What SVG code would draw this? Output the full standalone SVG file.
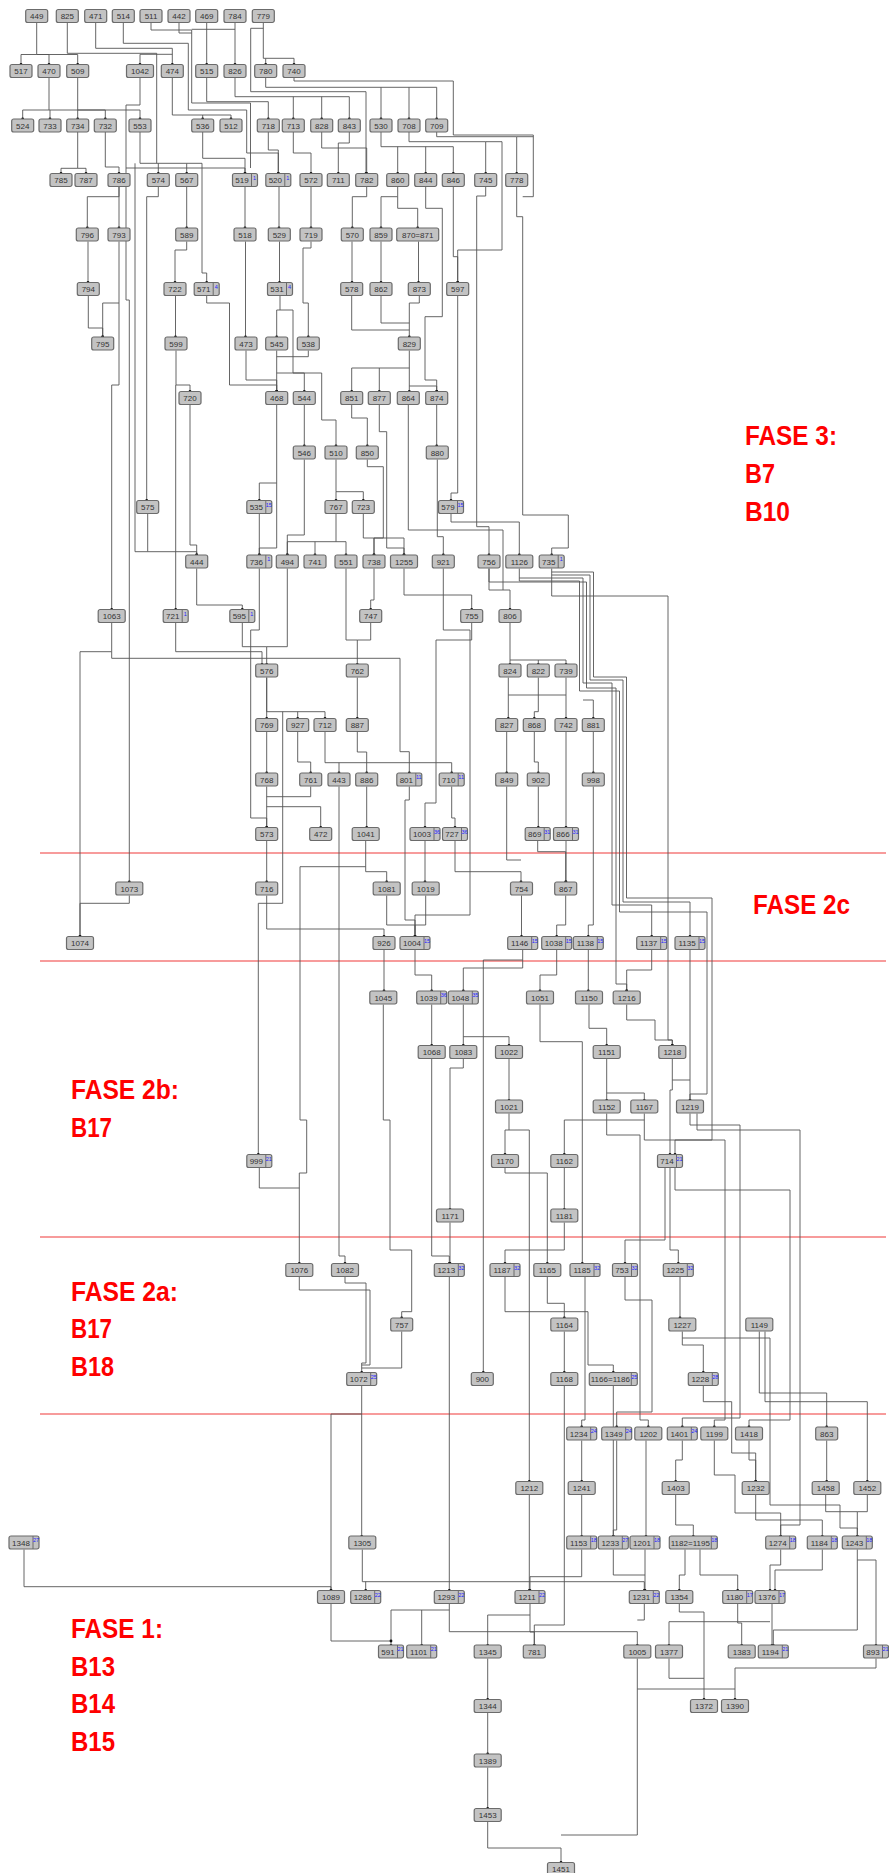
<svg xmlns="http://www.w3.org/2000/svg" xmlns:xlink="http://www.w3.org/1999/xlink" width="889" height="1873" viewBox="0 0 889 1873">
<style>
.l{font-family:"Liberation Sans",Arial,sans-serif;font-size:8px;fill:#333;text-anchor:middle}
.t{font-family:"Liberation Sans",Arial,sans-serif;font-size:5.5px;fill:#2424ff;text-anchor:middle}
.e{fill:none;stroke:#555;stroke-width:0.9;marker-end:url(#dot)}
.j{fill:none;stroke:#555;stroke-width:0.9}
.ph{stroke:#f47a7a;stroke-width:1.5}
.f{font-family:"Liberation Sans",Arial,sans-serif;font-weight:bold;font-size:27px;fill:#ff0000}
</style>
<defs>
<marker id="dot" markerWidth="4" markerHeight="4" refX="2" refY="2" markerUnits="userSpaceOnUse"><circle cx="2" cy="2" r="1.4" fill="#111"/></marker>
<g id="b3"><rect x="-11" y="-6.5" width="22" height="13" rx="2" fill="#c3c3c3" stroke="#6b6b6b" stroke-width="1.2"/></g>
<g id="b4"><rect x="-13.5" y="-6.5" width="27" height="13" rx="2" fill="#c3c3c3" stroke="#6b6b6b" stroke-width="1.2"/></g>
<g id="bL"><rect x="-21" y="-6.5" width="42" height="13" rx="2" fill="#c3c3c3" stroke="#6b6b6b" stroke-width="1.2"/></g>
<g id="t3"><rect x="-12.5" y="-6.5" width="25" height="13" rx="2" fill="#c3c3c3" stroke="#6b6b6b" stroke-width="1.2"/><path d="M6.5 -6.5V6.5" stroke="#6b6b6b" stroke-width="1"/></g>
<g id="t4"><rect x="-15" y="-6.5" width="30" height="13" rx="2" fill="#c3c3c3" stroke="#6b6b6b" stroke-width="1.2"/><path d="M9 -6.5V6.5" stroke="#6b6b6b" stroke-width="1"/></g>
<g id="tL"><rect x="-24" y="-6.5" width="48" height="13" rx="2" fill="#c3c3c3" stroke="#6b6b6b" stroke-width="1.2"/><path d="M18 -6.5V6.5" stroke="#6b6b6b" stroke-width="1"/></g>
</defs>
<rect width="889" height="1873" fill="#ffffff"/>
<g id="phases">
<line class="ph" x1="40" y1="853" x2="886" y2="853"/>
<line class="ph" x1="40" y1="961" x2="886" y2="961"/>
<line class="ph" x1="40" y1="1237" x2="886" y2="1237"/>
<line class="ph" x1="40" y1="1414" x2="886" y2="1414"/>
<text class="f" x="745" y="445" textLength="92" lengthAdjust="spacingAndGlyphs">FASE 3:</text>
<text class="f" x="745" y="483" textLength="30" lengthAdjust="spacingAndGlyphs">B7</text>
<text class="f" x="745" y="521" textLength="45" lengthAdjust="spacingAndGlyphs">B10</text>
<text class="f" x="753" y="914" textLength="97" lengthAdjust="spacingAndGlyphs">FASE 2c</text>
<text class="f" x="71" y="1099" textLength="108" lengthAdjust="spacingAndGlyphs">FASE 2b:</text>
<text class="f" x="71" y="1137" textLength="41" lengthAdjust="spacingAndGlyphs">B17</text>
<text class="f" x="71" y="1301" textLength="107" lengthAdjust="spacingAndGlyphs">FASE 2a:</text>
<text class="f" x="71" y="1338" textLength="41" lengthAdjust="spacingAndGlyphs">B17</text>
<text class="f" x="71" y="1376" textLength="43" lengthAdjust="spacingAndGlyphs">B18</text>
<text class="f" x="71" y="1638" textLength="92" lengthAdjust="spacingAndGlyphs">FASE 1:</text>
<text class="f" x="71" y="1676" textLength="44" lengthAdjust="spacingAndGlyphs">B13</text>
<text class="f" x="71" y="1713" textLength="44" lengthAdjust="spacingAndGlyphs">B14</text>
<text class="f" x="71" y="1751" textLength="44" lengthAdjust="spacingAndGlyphs">B15</text>
</g>
<g id="connectors">
<path class="e" d="M36.7 22.5V54.5H21V64.5"/>
<path class="e" d="M36.7 54.5H49V64.5"/>
<path class="e" d="M36.7 54.5H77.7V64.5"/>
<path class="e" d="M95.7 22.5V48.3H172.3V64.5"/>
<path class="e" d="M172.3 54.3H140V64.5"/>
<path class="e" d="M206.7 22.5V64.5"/>
<path class="e" d="M235 22.5V64.5"/>
<path class="e" d="M263.3 22.5V58.3H265.7V64.5"/>
<path class="e" d="M265.7 58.3H294V64.5"/>
<path class="j" d="M67.3 22.5V53.3H156.7V163.3"/>
<path class="e" d="M123.3 22.5V43.3H188.3V110H246.7V153H278.3V173.5"/>
<path class="j" d="M151 22.5V30H191.7V103H250.5V168"/>
<path class="j" d="M179 22.5V33H191.7"/>
<path class="j" d="M235 29.3H191.7"/>
<path class="e" d="M140 77.5V105H126V168H245V173.5"/>
<path class="e" d="M126 168V300H129.3V882"/>
<path class="e" d="M263.3 28.3H250.7V91.7H366V173.5"/>
<path class="e" d="M49 77.5V110H22.7V119"/>
<path class="e" d="M50 110V119"/>
<path class="e" d="M77.7 110V119"/>
<path class="e" d="M49 110H105.3V119"/>
<path class="e" d="M77.7 77.5V110H140V119"/>
<path class="e" d="M172.3 77.5V115H231V119"/>
<path class="e" d="M202.7 115V119"/>
<path class="e" d="M206.7 77.5V101.7H268.3V119"/>
<path class="e" d="M235 77.5V96.7H349.3V119"/>
<path class="e" d="M293.3 96.7V119"/>
<path class="e" d="M321.7 96.7V119"/>
<path class="e" d="M265.7 77.5V87.3H436.7V119"/>
<path class="e" d="M381 87.3V119"/>
<path class="e" d="M409 87.3V119"/>
<path class="j" d="M294 77.5V81H453.3V135H533.3V196.7H522.7"/>
<path class="e" d="M77.7 132V168.3H61V173.5"/>
<path class="e" d="M77.7 168.3H86V173.5"/>
<path class="e" d="M105.3 132V167H119V173.5"/>
<path class="e" d="M140 132V163.3H186.7V173.5"/>
<path class="e" d="M158.3 163.3V173.5"/>
<path class="e" d="M186.7 163.3H202V273H206.7V282.5"/>
<path class="e" d="M202.7 132V158.3H245V173.5"/>
<path class="e" d="M268.3 132V150H278.3V173.5"/>
<path class="e" d="M293.3 132V153H311V173.5"/>
<path class="e" d="M321.7 132V148H366.7V173.5"/>
<path class="e" d="M349.3 132V143H338.3V173.5"/>
<path class="e" d="M381 132V146.7H453.3V173.5"/>
<path class="e" d="M397.7 146.7V173.5"/>
<path class="e" d="M425.7 146.7V173.5"/>
<path class="e" d="M409 132V141.7H485.7V173.5"/>
<path class="e" d="M485.7 141.7H502V250H457.7V282.5"/>
<path class="e" d="M436.7 132V136.7H516.7V173.5"/>
<path class="j" d="M516.7 136.7H533.3"/>
<path class="e" d="M119 186.5V196.7H87.3V228"/>
<path class="e" d="M119 186.5V228"/>
<path class="e" d="M186.7 186.5V228"/>
<path class="e" d="M245 186.5V228"/>
<path class="e" d="M279 186.5V228"/>
<path class="e" d="M311 186.5V228"/>
<path class="e" d="M366.7 186.5V196.7H352.3V228"/>
<path class="e" d="M397.7 186.5V196.7H381V228"/>
<path class="e" d="M397.7 196.7V208.3H417.7V228"/>
<path class="e" d="M425.7 186.5V208.3H442.3V316.7H425V380H436.7V391.5"/>
<path class="e" d="M453.3 186.5V256.7H457.7V282.5"/>
<path class="e" d="M516.7 186.5V216.7H522.7V515H568.3V548H551.7V555"/>
<path class="e" d="M485.7 186.5V196H476.7V526.7H489V555"/>
<path class="e" d="M88 241.5V282.5"/>
<path class="e" d="M186.7 241.5V250H175V282.5"/>
<path class="e" d="M245.5 241.5V337"/>
<path class="e" d="M279.5 241.5V282.5"/>
<path class="e" d="M311 241.5V248H303V303H308.3V337"/>
<path class="e" d="M352 241.5V282.5"/>
<path class="e" d="M381 241.5V282.5"/>
<path class="e" d="M418.5 241.5V282.5"/>
<path class="e" d="M119 241.5V303H102.7V337"/>
<path class="e" d="M119 303V385H111.7V609.5"/>
<path class="e" d="M88.3 295.5V328H102.7V337"/>
<path class="e" d="M175.5 295.5V337"/>
<path class="e" d="M206.7 295.5V303H229.5V385H276.7V391.5"/>
<path class="e" d="M280 295.5V310H276.7V337"/>
<path class="e" d="M280 310H293V373H321.7V420H336V446"/>
<path class="e" d="M351.7 295.5V330H409.3V337"/>
<path class="j" d="M381 295.5V323H409.3"/>
<path class="j" d="M419.3 295.5V303H409.3V330"/>
<path class="e" d="M457.7 295.5V493H451V500.5"/>
<path class="e" d="M176 350.5V385H190V391.5"/>
<path class="e" d="M175.7 385V609.5"/>
<path class="e" d="M246 350.5V380H276.7V391.5"/>
<path class="e" d="M276.7 350.5V391.5"/>
<path class="e" d="M276.7 373H304.3V391.5"/>
<path class="j" d="M308.3 350.5V356.7H276.7"/>
<path class="e" d="M409.3 350.5V368H351.7V391.5"/>
<path class="e" d="M379.3 368V391.5"/>
<path class="e" d="M409.3 368V391.5"/>
<path class="e" d="M409.3 386H436.7V391.5"/>
<path class="e" d="M304.3 404.5V446"/>
<path class="e" d="M351.7 404.5V418H367.3V446"/>
<path class="e" d="M436.7 404.5V446"/>
<path class="e" d="M276.7 404.5V483H259.3V500.5"/>
<path class="e" d="M276.7 483V548H259.3V555"/>
<path class="e" d="M379.3 404.5V431.7H386.7V548H404V555"/>
<path class="e" d="M408.3 404.5V530H503V590H510V609.5"/>
<path class="e" d="M190 404.5V545H196.7V555"/>
<path class="e" d="M336 459.5V491.7H363.3V500.5"/>
<path class="e" d="M336 491.7V500.5"/>
<path class="e" d="M304.3 459.5V535H287.3V555"/>
<path class="e" d="M367.3 459.5V466.7H383.3V538H374V555"/>
<path class="e" d="M437.3 459.5V536.7H443.3V555"/>
<path class="e" d="M451 513.5V522H519.3V555"/>
<path class="e" d="M259.3 513.5V555"/>
<path class="e" d="M336 513.5V541.7H287.3V555"/>
<path class="e" d="M315 541.7V555"/>
<path class="e" d="M336 541.7H346V555"/>
<path class="e" d="M363.3 513.5V538H404V555"/>
<path class="e" d="M374 538V555"/>
<path class="e" d="M147.7 513.5V551.7H196.7V555"/>
<path class="e" d="M158.3 186.5V196.7H146.7V500.5"/>
<path class="j" d="M135 163.3V551.7H147.7"/>
<path class="e" d="M374 568.5V600H370.7V609.5"/>
<path class="e" d="M404 568.5V595H471.7V609.5"/>
<path class="j" d="M443.3 568.5V595"/>
<path class="j" d="M489 568.5V590H503"/>
<path class="e" d="M196.7 568.5V605H242.3V609.5"/>
<path class="j" d="M346 568.5V640H357.3"/>
<path class="e" d="M370.7 622.5V640H357.3V664.5"/>
<path class="e" d="M287.3 568.5V646.7H266.7V664.5"/>
<path class="j" d="M242.3 622.5V646.7H266.7"/>
<path class="e" d="M175.7 622.5V651.7H262V664.5"/>
<path class="e" d="M259.3 568.5V630H250.7V818H266.7V827.5"/>
<path class="j" d="M471.7 622.5V640H436"/>
<path class="e" d="M436 640V803H425V827.5"/>
<path class="e" d="M111.7 622.5V651.7H80V936.5"/>
<path class="e" d="M111.7 651.7V658.3H400V751.7H409.3V773"/>
<path class="e" d="M510 622.5V664.5"/>
<path class="e" d="M510 660H566V664.5"/>
<path class="e" d="M538.3 660V664.5"/>
<path class="e" d="M519.3 568.5V578H583V683H612V905H651.7V936.5"/>
<path class="e" d="M551.7 568.5V575H590V680H623V902H690V936.5"/>
<path class="e" d="M551.7 575V596H668V1040H672.3V1045.5"/>
<path class="e" d="M489 568.5V582H586.5V688H616V984H626.7V991"/>
<path class="e" d="M519.3 578V581H579.5V691H619.5V912H707V1094H690V1100.5"/>
<path class="e" d="M551.7 572H593.5V677H626.5V898H712V1140H675V1154.5"/>
<path class="e" d="M583 700H593.3V718.5"/>
<path class="e" d="M266.7 677.5V711.7H325V718.5"/>
<path class="e" d="M266.7 677.5V718.5"/>
<path class="e" d="M297.7 711.7V718.5"/>
<path class="e" d="M282.7 711.7V903.3H258.3V1154.5"/>
<path class="e" d="M357.3 677.5V718.5"/>
<path class="e" d="M508.3 677.5V718.5"/>
<path class="e" d="M538.3 677.5V711.7H534.3V718.5"/>
<path class="e" d="M566 677.5V718.5"/>
<path class="j" d="M566 695H508.3"/>
<path class="e" d="M266.7 731.5V773"/>
<path class="e" d="M297.7 731.5V762H310.7V773"/>
<path class="e" d="M325 731.5V762.7H451.7V773"/>
<path class="e" d="M339 762.7V773"/>
<path class="e" d="M357.3 731.5V752H366.7V773"/>
<path class="e" d="M506.7 731.5V773"/>
<path class="e" d="M534.3 731.5V762H538.3V773"/>
<path class="e" d="M593.3 731.5V773"/>
<path class="e" d="M266.7 786.5V827.5"/>
<path class="j" d="M310.7 786.5V796.7H266.7"/>
<path class="e" d="M266.7 806.7H320.7V827.5"/>
<path class="e" d="M366.7 786.5V827.5"/>
<path class="e" d="M451.7 786.5V818H455V827.5"/>
<path class="e" d="M538.3 786.5V827.5"/>
<path class="e" d="M566 731.5V827.5"/>
<path class="e" d="M593.3 786.5V925H588.3V936.5"/>
<path class="e" d="M339 786.5V1256H345V1263.5"/>
<path class="e" d="M409.3 786.5V800H405V920H415V936.5"/>
<path class="e" d="M266.7 840.5V882"/>
<path class="e" d="M365.7 840.5V871.7H386.7V882"/>
<path class="e" d="M365.7 866.7H300V1120H306.7V1173H299.3V1263.5"/>
<path class="e" d="M425 840.5V882"/>
<path class="e" d="M455 840.5V871.7H521V882"/>
<path class="j" d="M506.7 786.5V860H521"/>
<path class="e" d="M537.7 840.5V851.7H565.7V882"/>
<path class="e" d="M566 840.5V882"/>
<path class="e" d="M129.3 895.5V903.3H80V936.5"/>
<path class="e" d="M266.7 895.5V929H384V936.5"/>
<path class="e" d="M386.7 895.5V925H415V936.5"/>
<path class="j" d="M425.7 895.5V925H415"/>
<path class="e" d="M521.5 895.5V936.5"/>
<path class="e" d="M565.7 895.5V925H556.7V936.5"/>
<path class="e" d="M443.3 595V630H470V915H415V936.5"/>
<path class="e" d="M384 949.5V991"/>
<path class="e" d="M415 949.5V975H431.7V991"/>
<path class="e" d="M522.7 949.5V968H463.3V991"/>
<path class="e" d="M522.7 960H483.3V1372.5"/>
<path class="e" d="M556.7 949.5V975H540V991"/>
<path class="e" d="M588.3 949.5V991"/>
<path class="e" d="M651.7 949.5V970H626.7V991"/>
<path class="e" d="M690 949.5V1100.5"/>
<path class="e" d="M431.7 1004.5V1045.5"/>
<path class="e" d="M463.3 1004.5V1045.5"/>
<path class="e" d="M463.3 1036.7H509V1045.5"/>
<path class="e" d="M589 1004.5V1028.3H606.7V1045.5"/>
<path class="e" d="M626.7 1004.5V1020H655V1040H672.3V1045.5"/>
<path class="e" d="M540 1004.5V1041.7H582.3V1263.5"/>
<path class="e" d="M383.3 1004.5V1120H390V1250H411.7V1311.7H401.7V1318"/>
<path class="e" d="M509 1058.5V1100.5"/>
<path class="e" d="M606.7 1058.5V1100.5"/>
<path class="e" d="M606.7 1093H644.3V1100.5"/>
<path class="j" d="M672.3 1058.5V1080H690"/>
<path class="e" d="M672.3 1080V1090H670V1154.5"/>
<path class="e" d="M463.3 1058.5V1068H450V1209.5"/>
<path class="e" d="M431.7 1058.5V1256H449.3V1263.5"/>
<path class="e" d="M509 1113.5V1130H505V1154.5"/>
<path class="e" d="M606.7 1113.5V1120H564.3V1154.5"/>
<path class="j" d="M644.3 1113.5V1120H606.7"/>
<path class="e" d="M509 1130H529.3V1481.5"/>
<path class="e" d="M606.7 1120V1135H640V1420H648.3V1427"/>
<path class="e" d="M644.3 1120V1140H725V1420H714.3V1427"/>
<path class="e" d="M690 1113.5V1125H740V1418H682.3V1427"/>
<path class="e" d="M697 1113.5V1130H800V1525H780.7V1536.5"/>
<path class="e" d="M564.3 1167.5V1209.5"/>
<path class="e" d="M505 1167.5V1173H547.3V1263.5"/>
<path class="e" d="M670 1167.5V1250H678.3V1263.5"/>
<path class="e" d="M665 1167.5V1240H625V1263.5"/>
<path class="e" d="M675 1167.5V1190H790V1420H749V1427"/>
<path class="j" d="M259.3 1167.5V1188H299.3"/>
<path class="e" d="M450 1222.5V1263.5"/>
<path class="e" d="M564.3 1222.5V1250H505V1263.5"/>
<path class="e" d="M547.3 1276.5V1303.3H564.3V1318"/>
<path class="e" d="M505 1276.5V1311.7H588V1365H613.3V1372.5"/>
<path class="e" d="M585 1276.5V1420H581.7V1427"/>
<path class="e" d="M625 1276.5V1300H652V1412H616.7V1427"/>
<path class="e" d="M680 1276.5V1318"/>
<path class="e" d="M682.3 1331.5V1345H703.3V1372.5"/>
<path class="e" d="M682.3 1338H770V1505H840V1528H857.3V1536.5"/>
<path class="e" d="M759.3 1331.5V1393H826.7V1427"/>
<path class="e" d="M765 1331.5V1401.7H867.3V1481.5"/>
<path class="e" d="M564.3 1331.5V1372.5"/>
<path class="e" d="M345 1276.5V1283H366V1363H361.7V1372.5"/>
<path class="j" d="M299.3 1276.5V1290H370V1365H361.7"/>
<path class="j" d="M401.7 1331.5V1368H361.7"/>
<path class="e" d="M361.7 1385.5V1536.5"/>
<path class="e" d="M361.7 1414H331V1590.5"/>
<path class="e" d="M613.3 1385.5V1536.5"/>
<path class="e" d="M703.3 1385.5V1401.7H731.7V1453H755.7V1481.5"/>
<path class="e" d="M564.3 1385.5V1625H534.3V1645.5"/>
<path class="e" d="M581.7 1440.5V1481.5"/>
<path class="e" d="M646 1440.5V1536.5"/>
<path class="e" d="M682.3 1440.5V1460H675.7V1481.5"/>
<path class="e" d="M714.3 1440.5V1475H735V1513H780.7V1536.5"/>
<path class="e" d="M749 1440.5V1460H755.7V1481.5"/>
<path class="e" d="M826.7 1440.5V1481.5"/>
<path class="e" d="M616.7 1440.5V1530H613.3V1536.5"/>
<path class="e" d="M581.7 1494.5V1536.5"/>
<path class="e" d="M675.7 1494.5V1525H693.3V1536.5"/>
<path class="e" d="M755.7 1494.5V1520H822.3V1536.5"/>
<path class="e" d="M825.7 1494.5V1511.7H857.3V1536.5"/>
<path class="j" d="M867.3 1494.5V1511.7H857.3"/>
<path class="e" d="M529.3 1494.5V1590.5"/>
<path class="e" d="M24 1549.5V1586.7H331V1590.5"/>
<path class="e" d="M362.3 1549.5V1581.7H644.3V1590.5"/>
<path class="e" d="M365.7 1581.7V1590.5"/>
<path class="e" d="M449.3 1276.5V1590.5"/>
<path class="e" d="M581.7 1549.5V1576.7H530V1590.5"/>
<path class="e" d="M645 1549.5V1590.5"/>
<path class="j" d="M613.3 1549.5V1575H645"/>
<path class="e" d="M685 1549.5V1575H679.3V1590.5"/>
<path class="e" d="M700 1549.5V1575H737.7V1590.5"/>
<path class="e" d="M780.7 1549.5V1565H770V1590.5"/>
<path class="e" d="M822.3 1549.5V1570H775V1590.5"/>
<path class="e" d="M857.3 1549.5V1560H876V1645.5"/>
<path class="e" d="M857.3 1560V1630H773.3V1645.5"/>
<path class="e" d="M331 1603.5V1641H391V1645.5"/>
<path class="e" d="M449.3 1603.5V1610H391V1641"/>
<path class="e" d="M421.7 1610V1645.5"/>
<path class="e" d="M449.3 1610V1631.7H637.3V1645.5"/>
<path class="e" d="M530 1603.5V1615H487.7V1645.5"/>
<path class="e" d="M530 1615V1632H534.3V1645.5"/>
<path class="j" d="M644.3 1603.5V1620H637.3"/>
<path class="e" d="M737.7 1603.5V1623H741.7V1645.5"/>
<path class="e" d="M772 1603.5V1645.5"/>
<path class="e" d="M770 1621.7H669V1645.5"/>
<path class="e" d="M679.3 1603.5V1612H704V1699.5"/>
<path class="e" d="M487.7 1658.5V1699.5"/>
<path class="e" d="M487.7 1712.5V1754"/>
<path class="e" d="M487.7 1767.5V1808.5"/>
<path class="e" d="M487.7 1821.5V1848H561V1862.5"/>
<path class="j" d="M637.3 1658.5V1835H561"/>
<path class="j" d="M669 1658.5V1678.3H704"/>
<path class="e" d="M637.3 1689H735V1699.5"/>
<path class="j" d="M876 1658.5V1668H735V1689"/>
</g>
<g id="nodes">
<g id="n449" transform="translate(36.7 16)"><use href="#b3"/><text class="l" y="3">449</text></g>
<g id="n825" transform="translate(67.3 16)"><use href="#b3"/><text class="l" y="3">825</text></g>
<g id="n471" transform="translate(95.7 16)"><use href="#b3"/><text class="l" y="3">471</text></g>
<g id="n514" transform="translate(123.3 16)"><use href="#b3"/><text class="l" y="3">514</text></g>
<g id="n511" transform="translate(151 16)"><use href="#b3"/><text class="l" y="3">511</text></g>
<g id="n442" transform="translate(179 16)"><use href="#b3"/><text class="l" y="3">442</text></g>
<g id="n469" transform="translate(206.7 16)"><use href="#b3"/><text class="l" y="3">469</text></g>
<g id="n784" transform="translate(235 16)"><use href="#b3"/><text class="l" y="3">784</text></g>
<g id="n779" transform="translate(263.3 16)"><use href="#b3"/><text class="l" y="3">779</text></g>
<g id="n517" transform="translate(21 71)"><use href="#b3"/><text class="l" y="3">517</text></g>
<g id="n470" transform="translate(49 71)"><use href="#b3"/><text class="l" y="3">470</text></g>
<g id="n509" transform="translate(77.7 71)"><use href="#b3"/><text class="l" y="3">509</text></g>
<g id="n1042" transform="translate(140 71)"><use href="#b4"/><text class="l" y="3">1042</text></g>
<g id="n474" transform="translate(172.3 71)"><use href="#b3"/><text class="l" y="3">474</text></g>
<g id="n515" transform="translate(206.7 71)"><use href="#b3"/><text class="l" y="3">515</text></g>
<g id="n826" transform="translate(235 71)"><use href="#b3"/><text class="l" y="3">826</text></g>
<g id="n780" transform="translate(265.7 71)"><use href="#b3"/><text class="l" y="3">780</text></g>
<g id="n740" transform="translate(294 71)"><use href="#b3"/><text class="l" y="3">740</text></g>
<g id="n524" transform="translate(22.7 125.5)"><use href="#b3"/><text class="l" y="3">524</text></g>
<g id="n733" transform="translate(50 125.5)"><use href="#b3"/><text class="l" y="3">733</text></g>
<g id="n734" transform="translate(77.7 125.5)"><use href="#b3"/><text class="l" y="3">734</text></g>
<g id="n732" transform="translate(105.3 125.5)"><use href="#b3"/><text class="l" y="3">732</text></g>
<g id="n553" transform="translate(140 125.5)"><use href="#b3"/><text class="l" y="3">553</text></g>
<g id="n536" transform="translate(202.7 125.5)"><use href="#b3"/><text class="l" y="3">536</text></g>
<g id="n512" transform="translate(231 125.5)"><use href="#b3"/><text class="l" y="3">512</text></g>
<g id="n718" transform="translate(268.3 125.5)"><use href="#b3"/><text class="l" y="3">718</text></g>
<g id="n713" transform="translate(293.3 125.5)"><use href="#b3"/><text class="l" y="3">713</text></g>
<g id="n828" transform="translate(321.7 125.5)"><use href="#b3"/><text class="l" y="3">828</text></g>
<g id="n843" transform="translate(349.3 125.5)"><use href="#b3"/><text class="l" y="3">843</text></g>
<g id="n530" transform="translate(381 125.5)"><use href="#b3"/><text class="l" y="3">530</text></g>
<g id="n708" transform="translate(409 125.5)"><use href="#b3"/><text class="l" y="3">708</text></g>
<g id="n709" transform="translate(436.7 125.5)"><use href="#b3"/><text class="l" y="3">709</text></g>
<g id="n785" transform="translate(61 180)"><use href="#b3"/><text class="l" y="3">785</text></g>
<g id="n787" transform="translate(86 180)"><use href="#b3"/><text class="l" y="3">787</text></g>
<g id="n786" transform="translate(119 180)"><use href="#b3"/><text class="l" y="3">786</text></g>
<g id="n574" transform="translate(158.3 180)"><use href="#b3"/><text class="l" y="3">574</text></g>
<g id="n567" transform="translate(186.7 180)"><use href="#b3"/><text class="l" y="3">567</text></g>
<g id="n519" transform="translate(245 180)"><use href="#t3"/><text class="l" x="-3" y="3">519</text><text class="t" x="9.5" y="-0.5">1</text></g>
<g id="n520" transform="translate(278.3 180)"><use href="#t3"/><text class="l" x="-3" y="3">520</text><text class="t" x="9.5" y="-0.5">1</text></g>
<g id="n572" transform="translate(311 180)"><use href="#b3"/><text class="l" y="3">572</text></g>
<g id="n711" transform="translate(338.3 180)"><use href="#b3"/><text class="l" y="3">711</text></g>
<g id="n782" transform="translate(366.7 180)"><use href="#b3"/><text class="l" y="3">782</text></g>
<g id="n860" transform="translate(397.7 180)"><use href="#b3"/><text class="l" y="3">860</text></g>
<g id="n844" transform="translate(425.7 180)"><use href="#b3"/><text class="l" y="3">844</text></g>
<g id="n846" transform="translate(453.3 180)"><use href="#b3"/><text class="l" y="3">846</text></g>
<g id="n745" transform="translate(485.7 180)"><use href="#b3"/><text class="l" y="3">745</text></g>
<g id="n778" transform="translate(516.7 180)"><use href="#b3"/><text class="l" y="3">778</text></g>
<g id="n796" transform="translate(87.3 234.5)"><use href="#b3"/><text class="l" y="3">796</text></g>
<g id="n793" transform="translate(119 234.5)"><use href="#b3"/><text class="l" y="3">793</text></g>
<g id="n589" transform="translate(186.7 234.5)"><use href="#b3"/><text class="l" y="3">589</text></g>
<g id="n518" transform="translate(245 234.5)"><use href="#b3"/><text class="l" y="3">518</text></g>
<g id="n529" transform="translate(279.3 234.5)"><use href="#b3"/><text class="l" y="3">529</text></g>
<g id="n719" transform="translate(311 234.5)"><use href="#b3"/><text class="l" y="3">719</text></g>
<g id="n570" transform="translate(352.3 234.5)"><use href="#b3"/><text class="l" y="3">570</text></g>
<g id="n859" transform="translate(381 234.5)"><use href="#b3"/><text class="l" y="3">859</text></g>
<g id="n870" transform="translate(417.7 234.5)"><use href="#bL"/><text class="l" y="3">870=871</text></g>
<g id="n794" transform="translate(88.3 289)"><use href="#b3"/><text class="l" y="3">794</text></g>
<g id="n722" transform="translate(175 289)"><use href="#b3"/><text class="l" y="3">722</text></g>
<g id="n571" transform="translate(206.7 289)"><use href="#t3"/><text class="l" x="-3" y="3">571</text><text class="t" x="9.5" y="-0.5">4</text></g>
<g id="n531" transform="translate(280 289)"><use href="#t3"/><text class="l" x="-3" y="3">531</text><text class="t" x="9.5" y="-0.5">4</text></g>
<g id="n578" transform="translate(351.7 289)"><use href="#b3"/><text class="l" y="3">578</text></g>
<g id="n862" transform="translate(381 289)"><use href="#b3"/><text class="l" y="3">862</text></g>
<g id="n873" transform="translate(419.3 289)"><use href="#b3"/><text class="l" y="3">873</text></g>
<g id="n597" transform="translate(457.7 289)"><use href="#b3"/><text class="l" y="3">597</text></g>
<g id="n795" transform="translate(102.7 343.5)"><use href="#b3"/><text class="l" y="3">795</text></g>
<g id="n599" transform="translate(176 343.5)"><use href="#b3"/><text class="l" y="3">599</text></g>
<g id="n473" transform="translate(246 343.5)"><use href="#b3"/><text class="l" y="3">473</text></g>
<g id="n545" transform="translate(276.7 343.5)"><use href="#b3"/><text class="l" y="3">545</text></g>
<g id="n538" transform="translate(308.3 343.5)"><use href="#b3"/><text class="l" y="3">538</text></g>
<g id="n829" transform="translate(409.3 343.5)"><use href="#b3"/><text class="l" y="3">829</text></g>
<g id="n720" transform="translate(190 398)"><use href="#b3"/><text class="l" y="3">720</text></g>
<g id="n468" transform="translate(276.7 398)"><use href="#b3"/><text class="l" y="3">468</text></g>
<g id="n544" transform="translate(304.3 398)"><use href="#b3"/><text class="l" y="3">544</text></g>
<g id="n851" transform="translate(351.7 398)"><use href="#b3"/><text class="l" y="3">851</text></g>
<g id="n877" transform="translate(379.3 398)"><use href="#b3"/><text class="l" y="3">877</text></g>
<g id="n864" transform="translate(408.3 398)"><use href="#b3"/><text class="l" y="3">864</text></g>
<g id="n874" transform="translate(436.7 398)"><use href="#b3"/><text class="l" y="3">874</text></g>
<g id="n546" transform="translate(304.3 452.5)"><use href="#b3"/><text class="l" y="3">546</text></g>
<g id="n510" transform="translate(336 452.5)"><use href="#b3"/><text class="l" y="3">510</text></g>
<g id="n850" transform="translate(367.3 452.5)"><use href="#b3"/><text class="l" y="3">850</text></g>
<g id="n880" transform="translate(437.3 452.5)"><use href="#b3"/><text class="l" y="3">880</text></g>
<g id="n575" transform="translate(147.7 507)"><use href="#b3"/><text class="l" y="3">575</text></g>
<g id="n535" transform="translate(259.3 507)"><use href="#t3"/><text class="l" x="-3" y="3">535</text><text class="t" x="9.5" y="-0.5">15</text></g>
<g id="n767" transform="translate(336 507)"><use href="#b3"/><text class="l" y="3">767</text></g>
<g id="n723" transform="translate(363.3 507)"><use href="#b3"/><text class="l" y="3">723</text></g>
<g id="n579" transform="translate(451 507)"><use href="#t3"/><text class="l" x="-3" y="3">579</text><text class="t" x="9.5" y="-0.5">15</text></g>
<g id="n444" transform="translate(196.7 561.5)"><use href="#b3"/><text class="l" y="3">444</text></g>
<g id="n736" transform="translate(259.3 561.5)"><use href="#t3"/><text class="l" x="-3" y="3">736</text><text class="t" x="9.5" y="-0.5">1</text></g>
<g id="n494" transform="translate(287.3 561.5)"><use href="#b3"/><text class="l" y="3">494</text></g>
<g id="n741" transform="translate(315 561.5)"><use href="#b3"/><text class="l" y="3">741</text></g>
<g id="n551" transform="translate(346 561.5)"><use href="#b3"/><text class="l" y="3">551</text></g>
<g id="n738" transform="translate(374 561.5)"><use href="#b3"/><text class="l" y="3">738</text></g>
<g id="n1255" transform="translate(404 561.5)"><use href="#b4"/><text class="l" y="3">1255</text></g>
<g id="n921" transform="translate(443.3 561.5)"><use href="#b3"/><text class="l" y="3">921</text></g>
<g id="n756" transform="translate(489 561.5)"><use href="#b3"/><text class="l" y="3">756</text></g>
<g id="n1126" transform="translate(519.3 561.5)"><use href="#b4"/><text class="l" y="3">1126</text></g>
<g id="n735" transform="translate(551.7 561.5)"><use href="#t3"/><text class="l" x="-3" y="3">735</text><text class="t" x="9.5" y="-0.5">1</text></g>
<g id="n1063" transform="translate(111.7 616)"><use href="#b4"/><text class="l" y="3">1063</text></g>
<g id="n721" transform="translate(175.7 616)"><use href="#t3"/><text class="l" x="-3" y="3">721</text><text class="t" x="9.5" y="-0.5">1</text></g>
<g id="n595" transform="translate(242.3 616)"><use href="#t3"/><text class="l" x="-3" y="3">595</text><text class="t" x="9.5" y="-0.5">1</text></g>
<g id="n747" transform="translate(370.7 616)"><use href="#b3"/><text class="l" y="3">747</text></g>
<g id="n755" transform="translate(471.7 616)"><use href="#b3"/><text class="l" y="3">755</text></g>
<g id="n806" transform="translate(510 616)"><use href="#b3"/><text class="l" y="3">806</text></g>
<g id="n576" transform="translate(266.7 670.5)"><use href="#b3"/><text class="l" y="3">576</text></g>
<g id="n762" transform="translate(357.3 670.5)"><use href="#b3"/><text class="l" y="3">762</text></g>
<g id="n824" transform="translate(510 670.5)"><use href="#b3"/><text class="l" y="3">824</text></g>
<g id="n822" transform="translate(538.3 670.5)"><use href="#b3"/><text class="l" y="3">822</text></g>
<g id="n739" transform="translate(566 670.5)"><use href="#b3"/><text class="l" y="3">739</text></g>
<g id="n769" transform="translate(266.7 725)"><use href="#b3"/><text class="l" y="3">769</text></g>
<g id="n927" transform="translate(297.7 725)"><use href="#b3"/><text class="l" y="3">927</text></g>
<g id="n712" transform="translate(325 725)"><use href="#b3"/><text class="l" y="3">712</text></g>
<g id="n887" transform="translate(357.3 725)"><use href="#b3"/><text class="l" y="3">887</text></g>
<g id="n827" transform="translate(506.7 725)"><use href="#b3"/><text class="l" y="3">827</text></g>
<g id="n868" transform="translate(534.3 725)"><use href="#b3"/><text class="l" y="3">868</text></g>
<g id="n742" transform="translate(566 725)"><use href="#b3"/><text class="l" y="3">742</text></g>
<g id="n881" transform="translate(593.3 725)"><use href="#b3"/><text class="l" y="3">881</text></g>
<g id="n768" transform="translate(266.7 779.5)"><use href="#b3"/><text class="l" y="3">768</text></g>
<g id="n761" transform="translate(310.7 779.5)"><use href="#b3"/><text class="l" y="3">761</text></g>
<g id="n443" transform="translate(339 779.5)"><use href="#b3"/><text class="l" y="3">443</text></g>
<g id="n886" transform="translate(366.7 779.5)"><use href="#b3"/><text class="l" y="3">886</text></g>
<g id="n801" transform="translate(409.3 779.5)"><use href="#t3"/><text class="l" x="-3" y="3">801</text><text class="t" x="9.5" y="-0.5">11</text></g>
<g id="n710" transform="translate(451.7 779.5)"><use href="#t3"/><text class="l" x="-3" y="3">710</text><text class="t" x="9.5" y="-0.5">11</text></g>
<g id="n849" transform="translate(506.7 779.5)"><use href="#b3"/><text class="l" y="3">849</text></g>
<g id="n902" transform="translate(538.3 779.5)"><use href="#b3"/><text class="l" y="3">902</text></g>
<g id="n998" transform="translate(593.3 779.5)"><use href="#b3"/><text class="l" y="3">998</text></g>
<g id="n573" transform="translate(266.7 834)"><use href="#b3"/><text class="l" y="3">573</text></g>
<g id="n472" transform="translate(320.7 834)"><use href="#b3"/><text class="l" y="3">472</text></g>
<g id="n1041" transform="translate(365.7 834)"><use href="#b4"/><text class="l" y="3">1041</text></g>
<g id="n1003" transform="translate(425 834)"><use href="#t4"/><text class="l" x="-3" y="3">1003</text><text class="t" x="12" y="-0.5">36</text></g>
<g id="n727" transform="translate(455 834)"><use href="#t3"/><text class="l" x="-3" y="3">727</text><text class="t" x="9.5" y="-0.5">36</text></g>
<g id="n869" transform="translate(537.7 834)"><use href="#t3"/><text class="l" x="-3" y="3">869</text><text class="t" x="9.5" y="-0.5">31</text></g>
<g id="n866" transform="translate(566 834)"><use href="#t3"/><text class="l" x="-3" y="3">866</text><text class="t" x="9.5" y="-0.5">31</text></g>
<g id="n1073" transform="translate(129.3 888.5)"><use href="#b4"/><text class="l" y="3">1073</text></g>
<g id="n716" transform="translate(266.7 888.5)"><use href="#b3"/><text class="l" y="3">716</text></g>
<g id="n1081" transform="translate(386.7 888.5)"><use href="#b4"/><text class="l" y="3">1081</text></g>
<g id="n1019" transform="translate(425.7 888.5)"><use href="#b4"/><text class="l" y="3">1019</text></g>
<g id="n754" transform="translate(521.5 888.5)"><use href="#b3"/><text class="l" y="3">754</text></g>
<g id="n867" transform="translate(565.7 888.5)"><use href="#b3"/><text class="l" y="3">867</text></g>
<g id="n1074" transform="translate(80 943)"><use href="#b4"/><text class="l" y="3">1074</text></g>
<g id="n926" transform="translate(384 943)"><use href="#b3"/><text class="l" y="3">926</text></g>
<g id="n1004" transform="translate(415 943)"><use href="#t4"/><text class="l" x="-3" y="3">1004</text><text class="t" x="12" y="-0.5">15</text></g>
<g id="n1146" transform="translate(522.7 943)"><use href="#t4"/><text class="l" x="-3" y="3">1146</text><text class="t" x="12" y="-0.5">15</text></g>
<g id="n1038" transform="translate(556.7 943)"><use href="#t4"/><text class="l" x="-3" y="3">1038</text><text class="t" x="12" y="-0.5">15</text></g>
<g id="n1138" transform="translate(588.3 943)"><use href="#t4"/><text class="l" x="-3" y="3">1138</text><text class="t" x="12" y="-0.5">15</text></g>
<g id="n1137" transform="translate(651.7 943)"><use href="#t4"/><text class="l" x="-3" y="3">1137</text><text class="t" x="12" y="-0.5">15</text></g>
<g id="n1135" transform="translate(690 943)"><use href="#t4"/><text class="l" x="-3" y="3">1135</text><text class="t" x="12" y="-0.5">15</text></g>
<g id="n1045" transform="translate(383.3 997.5)"><use href="#b4"/><text class="l" y="3">1045</text></g>
<g id="n1039" transform="translate(431.7 997.5)"><use href="#t4"/><text class="l" x="-3" y="3">1039</text><text class="t" x="12" y="-0.5">36</text></g>
<g id="n1048" transform="translate(463.3 997.5)"><use href="#t4"/><text class="l" x="-3" y="3">1048</text><text class="t" x="12" y="-0.5">35</text></g>
<g id="n1051" transform="translate(540 997.5)"><use href="#b4"/><text class="l" y="3">1051</text></g>
<g id="n1150" transform="translate(589 997.5)"><use href="#b4"/><text class="l" y="3">1150</text></g>
<g id="n1216" transform="translate(626.7 997.5)"><use href="#b4"/><text class="l" y="3">1216</text></g>
<g id="n1068" transform="translate(431.7 1052)"><use href="#b4"/><text class="l" y="3">1068</text></g>
<g id="n1083" transform="translate(463.3 1052)"><use href="#b4"/><text class="l" y="3">1083</text></g>
<g id="n1022" transform="translate(509 1052)"><use href="#b4"/><text class="l" y="3">1022</text></g>
<g id="n1151" transform="translate(606.7 1052)"><use href="#b4"/><text class="l" y="3">1151</text></g>
<g id="n1218" transform="translate(672.3 1052)"><use href="#b4"/><text class="l" y="3">1218</text></g>
<g id="n1021" transform="translate(509 1106.5)"><use href="#b4"/><text class="l" y="3">1021</text></g>
<g id="n1152" transform="translate(606.7 1106.5)"><use href="#b4"/><text class="l" y="3">1152</text></g>
<g id="n1167" transform="translate(644.3 1106.5)"><use href="#b4"/><text class="l" y="3">1167</text></g>
<g id="n1219" transform="translate(690 1106.5)"><use href="#b4"/><text class="l" y="3">1219</text></g>
<g id="n999" transform="translate(259.3 1161)"><use href="#t3"/><text class="l" x="-3" y="3">999</text><text class="t" x="9.5" y="-0.5">21</text></g>
<g id="n1170" transform="translate(505 1161)"><use href="#b4"/><text class="l" y="3">1170</text></g>
<g id="n1162" transform="translate(564.3 1161)"><use href="#b4"/><text class="l" y="3">1162</text></g>
<g id="n714" transform="translate(670 1161)"><use href="#t3"/><text class="l" x="-3" y="3">714</text><text class="t" x="9.5" y="-0.5">21</text></g>
<g id="n1171" transform="translate(450 1215.5)"><use href="#b4"/><text class="l" y="3">1171</text></g>
<g id="n1181" transform="translate(564.3 1215.5)"><use href="#b4"/><text class="l" y="3">1181</text></g>
<g id="n1076" transform="translate(299.3 1270)"><use href="#b4"/><text class="l" y="3">1076</text></g>
<g id="n1082" transform="translate(345 1270)"><use href="#b4"/><text class="l" y="3">1082</text></g>
<g id="n1213" transform="translate(449.3 1270)"><use href="#t4"/><text class="l" x="-3" y="3">1213</text><text class="t" x="12" y="-0.5">32</text></g>
<g id="n1187" transform="translate(505 1270)"><use href="#t4"/><text class="l" x="-3" y="3">1187</text><text class="t" x="12" y="-0.5">32</text></g>
<g id="n1165" transform="translate(547.3 1270)"><use href="#b4"/><text class="l" y="3">1165</text></g>
<g id="n1185" transform="translate(585 1270)"><use href="#t4"/><text class="l" x="-3" y="3">1185</text><text class="t" x="12" y="-0.5">32</text></g>
<g id="n753" transform="translate(625 1270)"><use href="#t3"/><text class="l" x="-3" y="3">753</text><text class="t" x="9.5" y="-0.5">32</text></g>
<g id="n1225" transform="translate(678.3 1270)"><use href="#t4"/><text class="l" x="-3" y="3">1225</text><text class="t" x="12" y="-0.5">32</text></g>
<g id="n757" transform="translate(401.7 1324.5)"><use href="#b3"/><text class="l" y="3">757</text></g>
<g id="n1164" transform="translate(564.3 1324.5)"><use href="#b4"/><text class="l" y="3">1164</text></g>
<g id="n1227" transform="translate(682.3 1324.5)"><use href="#b4"/><text class="l" y="3">1227</text></g>
<g id="n1149" transform="translate(759.3 1324.5)"><use href="#b4"/><text class="l" y="3">1149</text></g>
<g id="n1072" transform="translate(361.7 1379)"><use href="#t4"/><text class="l" x="-3" y="3">1072</text><text class="t" x="12" y="-0.5">25</text></g>
<g id="n900" transform="translate(482.3 1379)"><use href="#b3"/><text class="l" y="3">900</text></g>
<g id="n1168" transform="translate(564.3 1379)"><use href="#b4"/><text class="l" y="3">1168</text></g>
<g id="n1166" transform="translate(613.3 1379)"><use href="#tL"/><text class="l" x="-3" y="3">1166=1186</text><text class="t" x="21" y="-0.5">25</text></g>
<g id="n1228" transform="translate(703.3 1379)"><use href="#t4"/><text class="l" x="-3" y="3">1228</text><text class="t" x="12" y="-0.5">28</text></g>
<g id="n1234" transform="translate(581.7 1433.5)"><use href="#t4"/><text class="l" x="-3" y="3">1234</text><text class="t" x="12" y="-0.5">24</text></g>
<g id="n1349" transform="translate(616.7 1433.5)"><use href="#t4"/><text class="l" x="-3" y="3">1349</text><text class="t" x="12" y="-0.5">24</text></g>
<g id="n1202" transform="translate(648.3 1433.5)"><use href="#b4"/><text class="l" y="3">1202</text></g>
<g id="n1401" transform="translate(682.3 1433.5)"><use href="#t4"/><text class="l" x="-3" y="3">1401</text><text class="t" x="12" y="-0.5">24</text></g>
<g id="n1199" transform="translate(714.3 1433.5)"><use href="#b4"/><text class="l" y="3">1199</text></g>
<g id="n1418" transform="translate(749 1433.5)"><use href="#b4"/><text class="l" y="3">1418</text></g>
<g id="n863" transform="translate(826.7 1433.5)"><use href="#b3"/><text class="l" y="3">863</text></g>
<g id="n1212" transform="translate(529.3 1488)"><use href="#b4"/><text class="l" y="3">1212</text></g>
<g id="n1241" transform="translate(581.7 1488)"><use href="#b4"/><text class="l" y="3">1241</text></g>
<g id="n1403" transform="translate(675.7 1488)"><use href="#b4"/><text class="l" y="3">1403</text></g>
<g id="n1232" transform="translate(755.7 1488)"><use href="#b4"/><text class="l" y="3">1232</text></g>
<g id="n1458" transform="translate(825.7 1488)"><use href="#b4"/><text class="l" y="3">1458</text></g>
<g id="n1452" transform="translate(867.3 1488)"><use href="#b4"/><text class="l" y="3">1452</text></g>
<g id="n1348" transform="translate(24 1542.5)"><use href="#t4"/><text class="l" x="-3" y="3">1348</text><text class="t" x="12" y="-0.5">27</text></g>
<g id="n1305" transform="translate(362.3 1542.5)"><use href="#b4"/><text class="l" y="3">1305</text></g>
<g id="n1153" transform="translate(581.7 1542.5)"><use href="#t4"/><text class="l" x="-3" y="3">1153</text><text class="t" x="12" y="-0.5">18</text></g>
<g id="n1233" transform="translate(613.3 1542.5)"><use href="#t4"/><text class="l" x="-3" y="3">1233</text><text class="t" x="12" y="-0.5">27</text></g>
<g id="n1201" transform="translate(645 1542.5)"><use href="#t4"/><text class="l" x="-3" y="3">1201</text><text class="t" x="12" y="-0.5">18</text></g>
<g id="n1182" transform="translate(693.3 1542.5)"><use href="#tL"/><text class="l" x="-3" y="3">1182=1195</text><text class="t" x="21" y="-0.5">18</text></g>
<g id="n1274" transform="translate(780.7 1542.5)"><use href="#t4"/><text class="l" x="-3" y="3">1274</text><text class="t" x="12" y="-0.5">18</text></g>
<g id="n1184" transform="translate(822.3 1542.5)"><use href="#t4"/><text class="l" x="-3" y="3">1184</text><text class="t" x="12" y="-0.5">18</text></g>
<g id="n1243" transform="translate(857.3 1542.5)"><use href="#t4"/><text class="l" x="-3" y="3">1243</text><text class="t" x="12" y="-0.5">18</text></g>
<g id="n1089" transform="translate(331 1597)"><use href="#b4"/><text class="l" y="3">1089</text></g>
<g id="n1286" transform="translate(365.7 1597)"><use href="#t4"/><text class="l" x="-3" y="3">1286</text><text class="t" x="12" y="-0.5">22</text></g>
<g id="n1293" transform="translate(449.3 1597)"><use href="#t4"/><text class="l" x="-3" y="3">1293</text><text class="t" x="12" y="-0.5">22</text></g>
<g id="n1211" transform="translate(530 1597)"><use href="#t4"/><text class="l" x="-3" y="3">1211</text><text class="t" x="12" y="-0.5">22</text></g>
<g id="n1231" transform="translate(644.3 1597)"><use href="#t4"/><text class="l" x="-3" y="3">1231</text><text class="t" x="12" y="-0.5">22</text></g>
<g id="n1354" transform="translate(679.3 1597)"><use href="#b4"/><text class="l" y="3">1354</text></g>
<g id="n1180" transform="translate(737.7 1597)"><use href="#t4"/><text class="l" x="-3" y="3">1180</text><text class="t" x="12" y="-0.5">17</text></g>
<g id="n1376" transform="translate(770 1597)"><use href="#t4"/><text class="l" x="-3" y="3">1376</text><text class="t" x="12" y="-0.5">17</text></g>
<g id="n591" transform="translate(391 1651.5)"><use href="#t3"/><text class="l" x="-3" y="3">591</text><text class="t" x="9.5" y="-0.5">21</text></g>
<g id="n1101" transform="translate(421.7 1651.5)"><use href="#t4"/><text class="l" x="-3" y="3">1101</text><text class="t" x="12" y="-0.5">21</text></g>
<g id="n1345" transform="translate(487.7 1651.5)"><use href="#b4"/><text class="l" y="3">1345</text></g>
<g id="n781" transform="translate(534.3 1651.5)"><use href="#b3"/><text class="l" y="3">781</text></g>
<g id="n1005" transform="translate(637.3 1651.5)"><use href="#b4"/><text class="l" y="3">1005</text></g>
<g id="n1377" transform="translate(669 1651.5)"><use href="#b4"/><text class="l" y="3">1377</text></g>
<g id="n1383" transform="translate(741.7 1651.5)"><use href="#b4"/><text class="l" y="3">1383</text></g>
<g id="n1194" transform="translate(773.3 1651.5)"><use href="#t4"/><text class="l" x="-3" y="3">1194</text><text class="t" x="12" y="-0.5">21</text></g>
<g id="n893" transform="translate(876 1651.5)"><use href="#t3"/><text class="l" x="-3" y="3">893</text><text class="t" x="9.5" y="-0.5">21</text></g>
<g id="n1344" transform="translate(487.7 1706)"><use href="#b4"/><text class="l" y="3">1344</text></g>
<g id="n1372" transform="translate(704 1706)"><use href="#b4"/><text class="l" y="3">1372</text></g>
<g id="n1390" transform="translate(735 1706)"><use href="#b4"/><text class="l" y="3">1390</text></g>
<g id="n1389" transform="translate(487.7 1760.5)"><use href="#b4"/><text class="l" y="3">1389</text></g>
<g id="n1453" transform="translate(487.7 1815)"><use href="#b4"/><text class="l" y="3">1453</text></g>
<g id="n1451" transform="translate(561 1869)"><use href="#b4"/><text class="l" y="3">1451</text></g>
</g>
</svg>
